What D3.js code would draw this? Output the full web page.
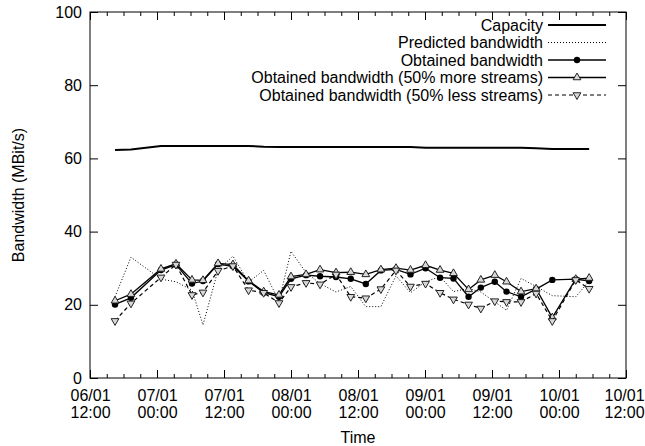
<!DOCTYPE html>
<html>
<head>
<meta charset="utf-8">
<script src="https://cdn.jsdelivr.net/npm/d3@7"></script>
<style>
  body { margin: 0; background: #fff; }
  svg { display: block; font-family: "Liberation Sans", Arial, Helvetica, sans-serif; }
  text { font-size: 16px; fill: #000; }
</style>
</head>
<body>
<div id="chart"></div>
<script>
// sample times (dd/mm hh:mm)
var times = ["06/01 16:29","06/01 19:20","07/01 00:43","07/01 03:24","07/01 06:16","07/01 08:14",
  "07/01 10:56","07/01 13:36","07/01 16:24","07/01 19:06","07/01 21:51","08/01 00:00",
  "08/01 02:42","08/01 05:12","08/01 08:04","08/01 10:42","08/01 13:24","08/01 16:06",
  "08/01 18:48","08/01 21:24","09/01 00:06","09/01 02:42","09/01 05:06","09/01 07:48",
  "09/01 10:00","09/01 12:30","09/01 14:36","09/01 17:12","09/01 19:54","09/01 22:48",
  "10/01 03:00","10/01 05:24"];

var capacity = [62.3,62.4,63.4,63.4,63.4,63.4,63.4,63.4,63.4,63.2,63.1,63.1,
  63.1,63.1,63.1,63.1,63.1,63.1,63.1,63.1,62.9,62.9,62.9,62.9,
  62.9,62.9,62.9,62.9,62.8,62.6,62.6,62.6];

var predicted = [22.2,33.0,27.0,26.3,24.0,14.5,29.5,33.3,26.2,29.4,21.0,34.6,
  28.8,25.8,23.5,25.0,19.5,19.5,27.9,23.3,26.3,27.7,23.6,24.5,
  23.5,20.8,18.5,27.2,25.0,22.5,22.2,26.5];

var obtained = [20.1,21.9,29.5,31.0,25.8,26.5,31.1,30.5,26.4,23.3,22.2,27.1,
  28.1,27.8,27.6,27.1,25.7,29.4,29.7,28.3,30.0,27.4,27.2,22.2,
  24.7,26.3,23.6,22.2,24.3,26.8,27.0,26.5];

var moreStreams = [21.1,22.9,29.8,31.2,26.8,26.7,31.3,31.0,26.6,23.6,22.7,27.7,
  28.3,29.6,28.8,28.9,28.3,29.6,30.0,29.5,30.8,29.5,28.6,24.2,
  26.8,28.1,26.3,23.6,24.4,16.5,27.0,27.3];

var lessStreams = [15.6,20.4,27.5,31.0,22.7,23.4,29.3,30.6,24.0,23.3,20.5,24.9,
  26.0,25.6,28.3,22.2,21.8,24.3,29.4,25.0,25.8,23.3,21.5,20.1,
  19.0,21.0,20.8,20.8,23.1,15.6,26.8,24.4];

var xTickLabels = ["06/01 12:00","07/01 00:00","07/01 12:00","08/01 00:00","08/01 12:00",
  "09/01 00:00","09/01 12:00","10/01 00:00","10/01 12:00"];
var yTicks = [0, 20, 40, 60, 80, 100];

var legendNames = ["Capacity", "Predicted bandwidth", "Obtained bandwidth",
  "Obtained bandwidth (50% more streams)", "Obtained bandwidth (50% less streams)"];

var width = 645, height = 446;
var pLeft = 90, pRight = 626, pTop = 12, pBottom = 378;

var parseT = d3.utcParse("%d/%m %H:%M");
var tdates = times.map(parseT);
var xMajor = xTickLabels.map(parseT);

var x = d3.scaleUtc()
  .domain([xMajor[0], xMajor[xMajor.length - 1]])
  .range([pLeft, pRight]);
var y = d3.scaleLinear().domain([0, 100]).range([pBottom, pTop]);

var svg = d3.select("#chart").append("svg")
  .attr("width", width)
  .attr("height", height);

var xMinor = d3.utcHour.every(3).range(x.domain()[0], x.domain()[1])
  .filter(function(d) { return d.getUTCHours() % 12 != 0; });

// ticks, gnuplot style (inward, mirrored)
function noDomain(g) { g.select(".domain").remove(); }

svg.append("g").attr("transform", "translate(0," + pBottom + ")")
  .call(d3.axisBottom(x).tickValues(xMinor).tickSize(-4).tickFormat(""))
  .call(noDomain);
svg.append("g").attr("transform", "translate(0," + pTop + ")")
  .call(d3.axisTop(x).tickValues(xMinor).tickSize(-4).tickFormat(""))
  .call(noDomain);
svg.append("g").attr("transform", "translate(0," + pTop + ")")
  .call(d3.axisTop(x).tickValues(xMajor).tickSize(-8).tickFormat(""))
  .call(noDomain);

var xAxis = svg.append("g").attr("transform", "translate(0," + pBottom + ")")
  .call(d3.axisBottom(x).tickValues(xMajor).tickSize(-8).tickPadding(0).tickFormat(""))
  .call(noDomain);
xAxis.selectAll(".tick text").remove();
xAxis.selectAll(".tick").each(function(d, i) {
  var parts = xTickLabels[i].split(" ");
  // keep the last label inside the page
  var shift = (i == xTickLabels.length - 1) ? -2 : 0;
  var t = d3.select(this).append("text")
    .attr("text-anchor", "middle")
    .attr("fill", "#000")
    .style("font-size", "16px");
  t.append("tspan").attr("x", shift).attr("y", 23).text(parts[0]);
  t.append("tspan").attr("x", shift).attr("y", 40).text(parts[1]);
});

svg.append("g").attr("transform", "translate(" + pLeft + ",0)")
  .call(d3.axisLeft(y).tickValues(yTicks).tickSize(-8).tickPadding(8))
  .call(noDomain)
  .selectAll("text").style("font-size", "16px").attr("fill", "#000")
  .attr("x", -8);
svg.append("g").attr("transform", "translate(" + pRight + ",0)")
  .call(d3.axisRight(y).tickValues(yTicks).tickSize(-8).tickFormat(""))
  .call(noDomain);

svg.selectAll(".tick line").attr("stroke", "#000");

svg.append("rect")
  .attr("x", pLeft).attr("y", pTop)
  .attr("width", pRight - pLeft).attr("height", pBottom - pTop)
  .attr("fill", "none").attr("stroke", "#000").attr("stroke-width", 1);

// axis titles
svg.append("text")
  .attr("x", (pLeft + pRight) / 2).attr("y", 443)
  .attr("text-anchor", "middle")
  .text("Time");
svg.append("text")
  .attr("transform", "translate(24," + ((pTop + pBottom) / 2) + ") rotate(-90)")
  .attr("text-anchor", "middle")
  .text("Bandwidth (MBit/s)");

// series
var series = [
  { vals: capacity, width: 2, dash: null, marker: null },
  { vals: predicted, width: 1, dash: "1,2", marker: null },
  { vals: obtained, width: 1.3, dash: null, marker: "circle" },
  { vals: moreStreams, width: 1.3, dash: null, marker: "up" },
  { vals: lessStreams, width: 1.2, dash: "4,3", marker: "down" }
];

var line = d3.line()
  .x(function(d) { return x(d[0]); })
  .y(function(d) { return y(d[1]); });

var tri = d3.symbol().type(d3.symbolTriangle).size(26);

function drawMarker(g, kind, px, py) {
  if (kind == "circle") {
    g.append("circle").attr("cx", px).attr("cy", py).attr("r", 3.2).attr("fill", "#000");
  } else if (kind == "up" || kind == "down") {
    g.append("path")
      .attr("d", tri())
      .attr("transform", "translate(" + px + "," + py + ")" + (kind == "down" ? " rotate(180)" : ""))
      .attr("fill", "#d8d8d8")
      .attr("stroke", "#222")
      .attr("stroke-width", 1);
  }
}

series.forEach(function(s) {
  var pts = tdates.map(function(t, i) { return [t, s.vals[i]]; });
  var g = svg.append("g");
  g.append("path")
    .attr("d", line(pts))
    .attr("fill", "none")
    .attr("stroke", "#000")
    .attr("stroke-width", s.width)
    .attr("stroke-dasharray", s.dash);
  if (s.marker) {
    pts.forEach(function(p) { drawMarker(g, s.marker, x(p[0]), y(p[1])); });
  }
});

// legend
var lg = svg.append("g");
legendNames.forEach(function(name, i) {
  var ly = 25 + i * 17.5;
  var s = series[i];
  lg.append("text")
    .attr("x", 543).attr("y", ly)
    .attr("dy", "0.35em")
    .attr("text-anchor", "end")
    .text(name);
  lg.append("line")
    .attr("x1", 548).attr("x2", 606)
    .attr("y1", ly).attr("y2", ly)
    .attr("stroke", "#000")
    .attr("stroke-width", s.width)
    .attr("stroke-dasharray", s.dash);
  if (s.marker) drawMarker(lg, s.marker, 577, ly);
});
</script>
</body>
</html>
